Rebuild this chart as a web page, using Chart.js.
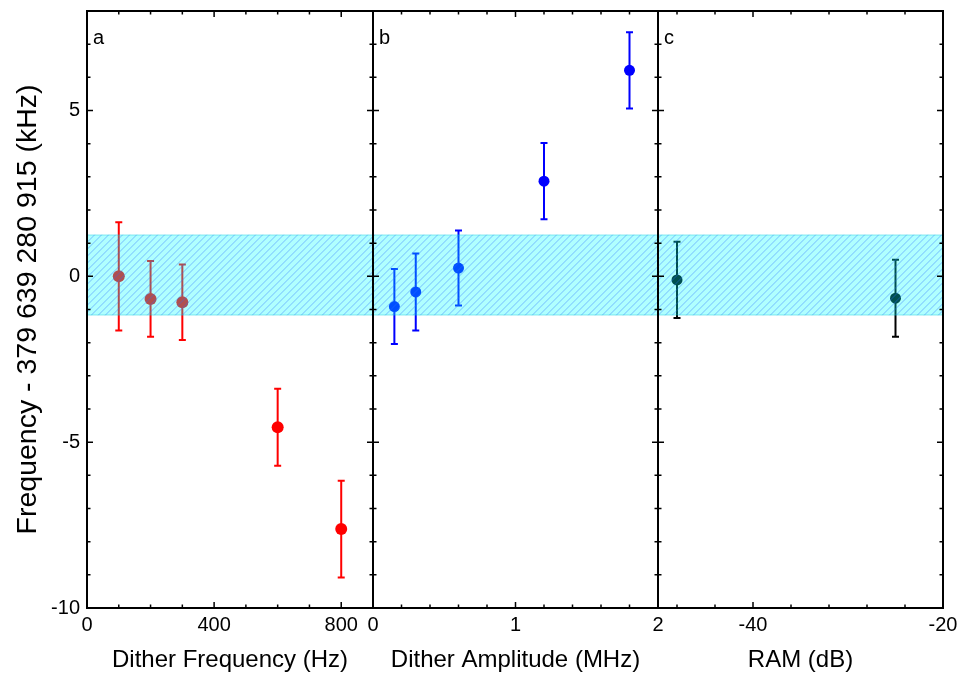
<!DOCTYPE html>
<html><head><meta charset="utf-8">
<script src="https://cdn.jsdelivr.net/npm/chart.js@4.4.1/dist/chart.umd.min.js"></script>
<style>
html,body{margin:0;padding:0;background:#fff;}
#wrap{position:relative;width:961px;height:675px;overflow:hidden;}
#wrap canvas{position:absolute;left:0;top:0;}
</style></head><body>
<div id="wrap">
<canvas id="ca" width="961" height="675"></canvas>
<canvas id="cb" width="961" height="675"></canvas>
<canvas id="cc" width="961" height="675"></canvas>
</div>
<script>
// ---- data ----
const ditherFreqHz = [100, 200, 300, 600, 800];
const freqA = [0.00, -0.68, -0.78, -4.55, -7.62];
const errA = [1.63, 1.14, 1.14, 1.16, 1.46];

const ditherAmpMHz = [0.15, 0.3, 0.6, 1.2, 1.8];
const freqB = [-0.91, -0.47, 0.25, 2.87, 6.21];
const errB = [1.13, 1.16, 1.13, 1.15, 1.15];

const ramDb = [-48, -25];
const freqC = [-0.11, -0.66];
const errC = [1.15, 1.16];

const bandLimits = [-1.18, 1.26];

const yTickLabels = [-10, -5, 0, 5];
const xTickLabelsA = [0, 400, 800];
const xTickLabelsB = [0, 1, 2];
const xTickLabelsC = [-40, -20];
const panelLetters = ['a', 'b', 'c'];
const xTitles = ['Dither Frequency (Hz)', 'Dither Amplitude (MHz)', 'RAM (dB)'];
const yTitle = 'Frequency - 379 639 280 915 (kHz)';

// ---- styling / layout ----
const FONT = "'Liberation Sans', Arial, sans-serif";
const W = 961, TOP = 11, XAXIS_H = 67, YAXIS_W = 87;
const panelEdges = [87, 373, 658, 943];

function minorTicks(start, end, step) {
  const out = [];
  for (let v = start; v <= end + step * 1e-6; v += step) out.push(Math.round(v * 1000) / 1000);
  return out;
}

const panels = [
  { id: 'ca', xs: ditherFreqHz, ys: freqA, errs: errA, color: '#ff0000', radius: 6,
    xmin: 0, xmax: 900, labels: xTickLabelsA, minor: minorTicks(0, 900, 100) },
  { id: 'cb', xs: ditherAmpMHz, ys: freqB, errs: errB, color: '#0000ff', radius: 5.5,
    xmin: 0, xmax: 2, labels: xTickLabelsB, minor: minorTicks(0, 2, 0.2) },
  { id: 'cc', xs: ramDb, ys: freqC, errs: errC, color: '#000000', radius: 5.5,
    xmin: -50, xmax: -20, labels: xTickLabelsC, minor: minorTicks(-48, -20, 4) }
];

const errorBarPlugin = {
  id: 'errorBars',
  beforeDatasetsDraw(chart, args, opts) {
    const { ctx, scales: { y } } = chart;
    const p = opts.panel;
    const meta = chart.getDatasetMeta(0);
    ctx.save();
    ctx.strokeStyle = p.color;
    ctx.lineWidth = 2;
    meta.data.forEach((pt, i) => {
      const x = pt.x;
      const yt = y.getPixelForValue(p.ys[i] + p.errs[i]);
      const yb = y.getPixelForValue(p.ys[i] - p.errs[i]);
      ctx.beginPath();
      ctx.moveTo(x, yt); ctx.lineTo(x, yb);
      ctx.moveTo(x - 3.5, yt); ctx.lineTo(x + 3.5, yt);
      ctx.moveTo(x - 3.5, yb); ctx.lineTo(x + 3.5, yb);
      ctx.stroke();
    });
    ctx.restore();
  },
  afterDatasetsDraw(chart, args, opts) {
    const { ctx, chartArea: a, scales: { x, y } } = chart;
    const p = opts.panel;
    // uncertainty band (drawn over the data, semi transparent, hatched)
    const top = y.getPixelForValue(bandLimits[1]);
    const bot = y.getPixelForValue(bandLimits[0]);
    ctx.save();
    ctx.beginPath();
    ctx.rect(a.left, top, a.right - a.left, bot - top);
    ctx.clip();
    ctx.fillStyle = 'rgba(0,255,255,0.31)';
    ctx.fillRect(a.left, top, a.right - a.left, bot - top);
    const h = bot - top, sp = 7;
    ctx.strokeStyle = 'rgba(40,110,255,0.45)';
    ctx.lineWidth = 1;
    ctx.beginPath();
    for (let k = Math.floor((a.left - h) / sp); k * sp <= a.right; k++) {
      ctx.moveTo(k * sp, bot);
      ctx.lineTo(k * sp + h, top);
    }
    ctx.stroke();
    ctx.restore();
    ctx.save();
    ctx.strokeStyle = 'rgba(0,190,210,0.35)';
    ctx.lineWidth = 1;
    ctx.beginPath();
    ctx.moveTo(a.left, top + 0.5); ctx.lineTo(a.right, top + 0.5);
    ctx.moveTo(a.left, bot - 0.5); ctx.lineTo(a.right, bot - 0.5);
    ctx.stroke();
    ctx.restore();

    // frame
    ctx.save();
    ctx.strokeStyle = '#000';
    ctx.lineWidth = 2;
    ctx.strokeRect(a.left, a.top, a.right - a.left, a.bottom - a.top);
    // ticks
    ctx.lineWidth = 1.5;
    ctx.beginPath();
    p.minor.forEach(v => {
      const major = p.labels.some(l => Math.abs(l - v) < 1e-6);
      const len = major ? 6 : 3.5;
      const px = x.getPixelForValue(v);
      ctx.moveTo(px, a.bottom); ctx.lineTo(px, a.bottom - len);
      ctx.moveTo(px, a.top); ctx.lineTo(px, a.top + len);
    });
    for (let v = -10; v <= 8; v++) {
      const major = yTickLabels.includes(v);
      const len = major ? 6 : 3.5;
      const py = y.getPixelForValue(v);
      ctx.moveTo(a.left, py); ctx.lineTo(a.left + len, py);
      ctx.moveTo(a.right, py); ctx.lineTo(a.right - len, py);
    }
    ctx.stroke();
    // panel letter
    ctx.fillStyle = '#000';
    ctx.font = '20px ' + FONT;
    ctx.textBaseline = 'alphabetic';
    ctx.textAlign = 'left';
    ctx.fillText(opts.letter, a.left + 6, a.top + 33);
    ctx.restore();
  }
};

panels.forEach((p, idx) => {
  const isFirst = idx === 0;
  const left = panelEdges[idx], right = panelEdges[idx + 1];
  new Chart(document.getElementById(p.id), {
    type: 'scatter',
    data: {
      datasets: [{
        data: p.xs.map((xv, i) => ({ x: xv, y: p.ys[i] })),
        backgroundColor: p.color,
        borderColor: p.color,
        borderWidth: 0,
        pointRadius: p.radius,
        pointHoverRadius: p.radius,
        showLine: false
      }]
    },
    options: {
      responsive: false,
      animation: false,
      events: [],
      layout: { padding: { left: isFirst ? 0 : left, right: W - right, top: TOP, bottom: 0 } },
      plugins: {
        legend: { display: false },
        tooltip: { enabled: false },
        errorBars: { panel: p, letter: panelLetters[idx] }
      },
      scales: {
        x: {
          type: 'linear', min: p.xmin, max: p.xmax,
          grid: { display: false, drawTicks: false },
          border: { display: false },
          afterBuildTicks: s => { s.ticks = p.labels.map(v => ({ value: v })); },
          afterFit: s => { s.height = XAXIS_H; s.paddingLeft = 0; s.paddingRight = 0; },
          ticks: { autoSkip: false, maxRotation: 0, minRotation: 0, padding: 5, color: '#000',
                   font: { family: FONT, size: 20 }, callback: v => String(v) },
          title: { display: true, text: xTitles[idx], color: '#000',
                   font: { family: FONT, size: 24 }, padding: { top: 0, bottom: 0 } }
        },
        y: {
          type: 'linear', min: -10, max: 8, display: isFirst,
          grid: { display: false, drawTicks: false },
          border: { display: false },
          afterBuildTicks: s => { s.ticks = yTickLabels.map(v => ({ value: v })); },
          afterFit: s => {
            s.width = isFirst ? YAXIS_W : 0;
            s.paddingTop = 0; s.paddingBottom = 0;
          },
          ticks: { autoSkip: false, padding: 7, color: '#000',
                   font: { family: FONT, size: 20 }, callback: v => String(v) },
          title: { display: true, text: yTitle, color: '#000',
                   font: { family: FONT, size: 28.5 }, padding: { top: 11, bottom: 0 } }
        }
      }
    },
    plugins: [errorBarPlugin]
  });
});
</script>
</body></html>
